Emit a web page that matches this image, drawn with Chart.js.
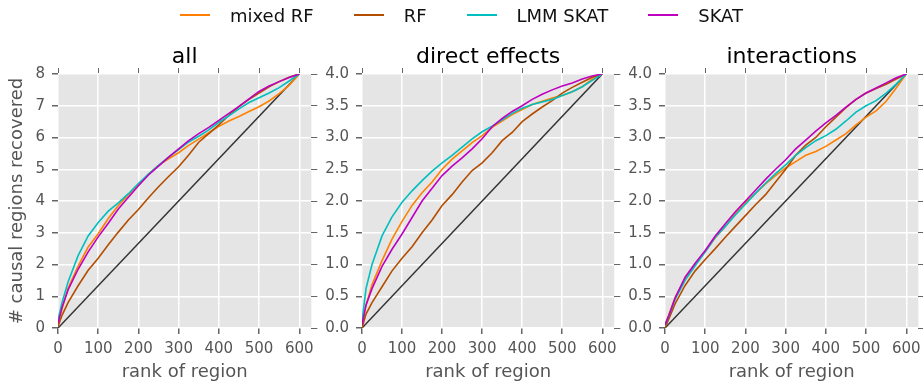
<!DOCTYPE html>
<html>
<head>
<meta charset="utf-8">
<script src="https://cdn.jsdelivr.net/npm/chart.js@4.4.1/dist/chart.umd.min.js"></script>
<style>
  html, body { margin: 0; padding: 0; background: #fff; }
  #wrap { position: relative; width: 923px; height: 383px; overflow: hidden; font-family: "DejaVu Sans", sans-serif; }
  canvas { position: absolute; top: 0; }
  #legend { position: absolute; top: 3px; left: 0; width: 923px; height: 24px; display: flex; justify-content: center; align-items: center; z-index: 2; }
  .item { display: flex; align-items: center; margin: 0 20px; font-size: 18px; color: #111; }
  .swatch { width: 30px; height: 2px; margin-right: 20px; }
</style>
</head>
<body>
<div id="wrap">
  <div id="legend"></div>
  <canvas id="c1" width="320" height="383" style="left:0px"></canvas>
  <canvas id="c2" width="306" height="383" style="left:317px"></canvas>
  <canvas id="c3" width="307" height="383" style="left:620px"></canvas>
</div>
<script>
const ranks = [0, 10, 25, 50, 75, 100, 125, 150, 175, 200, 225, 250, 275, 300,
               325, 350, 375, 400, 425, 450, 475, 500, 525, 550, 575, 600];

const seriesNames = ['mixed RF', 'RF', 'LMM SKAT', 'SKAT'];
const seriesColors = ['#ff8000', '#b34d00', '#00bfbf', '#bf00bf'];

// panel "all"
const mixedRfAll = [0.1, 0.6, 1.25, 1.95, 2.55, 2.97, 3.45, 3.86, 4.2, 4.52, 4.85, 5.12, 5.33, 5.52, 5.75, 5.95, 6.15, 6.35, 6.52, 6.66, 6.82, 6.97, 7.15, 7.38, 7.65, 8.0];
const rfAll      = [0.05, 0.4, 0.8, 1.33, 1.82, 2.2, 2.62, 3.02, 3.4, 3.73, 4.1, 4.45, 4.77, 5.08, 5.45, 5.85, 6.12, 6.4, 6.7, 6.97, 7.2, 7.4, 7.6, 7.76, 7.9, 8.0];
const lmmSkatAll = [0.25, 0.8, 1.45, 2.28, 2.9, 3.32, 3.68, 3.94, 4.23, 4.55, 4.85, 5.12, 5.38, 5.62, 5.86, 6.04, 6.24, 6.48, 6.68, 6.9, 7.1, 7.25, 7.4, 7.57, 7.78, 8.0];
const skatAll    = [0.15, 0.65, 1.2, 1.85, 2.4, 2.87, 3.3, 3.75, 4.12, 4.48, 4.82, 5.1, 5.38, 5.64, 5.9, 6.12, 6.32, 6.54, 6.76, 6.98, 7.22, 7.45, 7.62, 7.76, 7.89, 8.0];

// panel "direct effects"
const mixedRfDir = [0.05, 0.36, 0.68, 1.06, 1.4, 1.68, 1.93, 2.13, 2.3, 2.5, 2.66, 2.79, 2.92, 3.03, 3.16, 3.26, 3.36, 3.44, 3.52, 3.57, 3.62, 3.66, 3.72, 3.8, 3.92, 4.0];
const rfDir      = [0.0, 0.22, 0.4, 0.65, 0.9, 1.1, 1.28, 1.5, 1.7, 1.93, 2.1, 2.3, 2.48, 2.6, 2.76, 2.95, 3.08, 3.25, 3.37, 3.48, 3.58, 3.7, 3.79, 3.87, 3.95, 4.0];
const lmmSkatDir = [0.1, 0.62, 1.0, 1.45, 1.75, 1.98, 2.16, 2.32, 2.47, 2.6, 2.72, 2.85, 2.98, 3.09, 3.18, 3.28, 3.38, 3.46, 3.52, 3.56, 3.6, 3.66, 3.72, 3.8, 3.9, 4.0];
const skatDir    = [0.05, 0.36, 0.62, 0.97, 1.24, 1.48, 1.74, 2.0, 2.2, 2.4, 2.55, 2.68, 2.82, 2.98, 3.17, 3.3, 3.41, 3.5, 3.6, 3.68, 3.75, 3.81, 3.86, 3.92, 3.97, 4.0];

// panel "interactions"
const mixedRfInt = [0.05, 0.22, 0.48, 0.78, 1.0, 1.2, 1.42, 1.6, 1.8, 1.98, 2.12, 2.27, 2.4, 2.52, 2.62, 2.72, 2.78, 2.86, 2.96, 3.06, 3.2, 3.32, 3.42, 3.57, 3.78, 4.0];
const rfInt      = [0.0, 0.15, 0.38, 0.67, 0.9, 1.08, 1.25, 1.43, 1.6, 1.77, 1.94, 2.1, 2.3, 2.5, 2.72, 2.88, 3.0, 3.17, 3.32, 3.47, 3.6, 3.7, 3.77, 3.84, 3.92, 4.0];
const lmmSkatInt = [0.05, 0.2, 0.45, 0.75, 0.98, 1.2, 1.43, 1.6, 1.78, 1.95, 2.12, 2.28, 2.43, 2.57, 2.72, 2.84, 2.95, 3.03, 3.13, 3.26, 3.4, 3.5, 3.58, 3.7, 3.84, 4.0];
const skatInt    = [0.05, 0.2, 0.47, 0.8, 1.02, 1.22, 1.45, 1.64, 1.83, 2.0, 2.17, 2.34, 2.5, 2.65, 2.82, 2.96, 3.1, 3.23, 3.35, 3.48, 3.6, 3.7, 3.78, 3.86, 3.94, 4.0];

// random-ranking reference line
const diagRanks = [0, 600];
const diagAll = [0, 8];
const diagHalf = [0, 4];

Chart.defaults.font.family = '"DejaVu Sans", sans-serif';
Chart.defaults.animation = false;

// legend as html, shared by the three panels
const legendEl = document.getElementById('legend');
seriesNames.forEach((name, i) => {
    const item = document.createElement('div');
    item.className = 'item';
    item.innerHTML = `<span class="swatch" style="background:${seriesColors[i]}"></span><span>${name}</span>`;
    legendEl.appendChild(item);
});

const plotBackground = {
    id: 'plotBackground',
    beforeDraw(chart) {
        const a = chart.chartArea;
        const ctx = chart.ctx;
        ctx.save();
        ctx.fillStyle = '#e5e5e5';
        ctx.fillRect(a.left, a.top, a.right - a.left, a.bottom - a.top);
        ctx.restore();
    }
};

function toPoints(xs, ys) {
    return xs.map((x, i) => ({ x: x, y: ys[i] }));
}

function makePanel(id, title, yMax, yStep, decimals, values, diag, leftWidth, yTitle) {
    // SKAT drawn on top, so the list is reversed
    const datasets = [];
    for (let i = values.length - 1; i >= 0; i--) {
        datasets.push({
            label: seriesNames[i],
            data: toPoints(ranks, values[i]),
            borderColor: seriesColors[i],
            borderWidth: 1.6,
            pointRadius: 0,
            tension: 0
        });
    }
    datasets.push({
        label: 'random',
        data: toPoints(diagRanks, diag),
        borderColor: '#333333',
        borderWidth: 1.5,
        pointRadius: 0
    });

    const tickColor = '#666666';
    const xBase = {
        type: 'linear', min: 0, max: 630,
        border: { display: false }
    };
    const yBase = {
        type: 'linear', min: 0, max: yMax,
        border: { display: false }
    };

    new Chart(document.getElementById(id), {
        type: 'line',
        data: { datasets: datasets },
        plugins: [plotBackground],
        options: {
            responsive: false,
            layout: { padding: { top: 36, left: 0, right: 0, bottom: 0 } },
            plugins: { legend: { display: false }, tooltip: { enabled: false } },
            scales: {
                x: Object.assign({}, xBase, {
                    position: 'bottom',
                    ticks: { stepSize: 100, includeBounds: false, color: '#555', font: { size: 15 }, padding: 6, maxRotation: 0 },
                    grid: { color: '#ffffff', lineWidth: 1.5, tickColor: tickColor, tickLength: 6 },
                    title: { display: true, text: 'rank of region', color: '#555', font: { size: 18 }, padding: { top: 0, bottom: 0 } },
                    afterFit: s => { s.height = 55; }
                }),
                x2: Object.assign({}, xBase, {
                    position: 'top',
                    ticks: { stepSize: 100, includeBounds: false, display: false },
                    grid: { drawOnChartArea: false, tickColor: tickColor, tickLength: 6 },
                    title: { display: true, text: title, color: '#000', font: { size: 22 }, padding: { top: 8, bottom: 0 } },
                    afterFit: s => { s.height = 38; }
                }),
                y: Object.assign({}, yBase, {
                    position: 'left',
                    ticks: { stepSize: yStep, color: '#555', font: { size: 15 }, padding: 7,
                             callback: v => v.toFixed(decimals) },
                    grid: { color: '#ffffff', lineWidth: 1.5, tickColor: tickColor, tickLength: 6 },
                    title: { display: !!yTitle, text: yTitle || '', color: '#555', font: { size: 18 }, padding: { top: 7, bottom: 0 } },
                    afterFit: s => { s.width = leftWidth; }
                }),
                y2: Object.assign({}, yBase, {
                    position: 'right',
                    ticks: { stepSize: yStep, display: false },
                    grid: { drawOnChartArea: false, tickColor: tickColor, tickLength: 6 },
                    afterFit: s => { s.width = 6; }
                })
            }
        }
    });
}

makePanel('c1', 'all', 8, 1, 0, [mixedRfAll, rfAll, lmmSkatAll, skatAll], diagAll, 58, '# causal regions recovered');
makePanel('c2', 'direct effects', 4, 0.5, 1, [mixedRfDir, rfDir, lmmSkatDir, skatDir], diagHalf, 45, null);
makePanel('c3', 'interactions', 4, 0.5, 1, [mixedRfInt, rfInt, lmmSkatInt, skatInt], diagHalf, 45, null);
</script>
</body>
</html>
